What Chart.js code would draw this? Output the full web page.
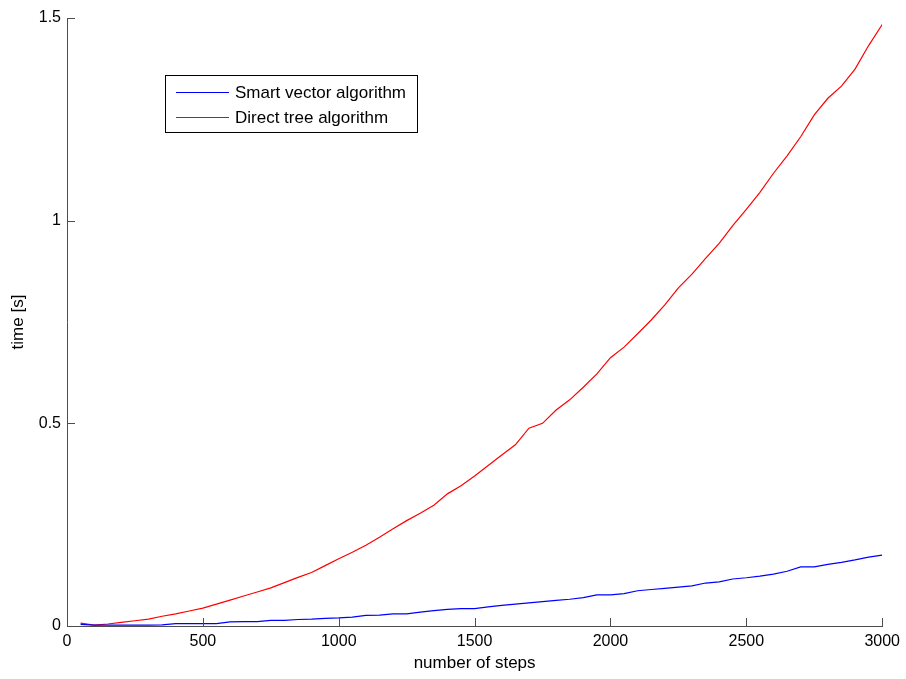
<!DOCTYPE html>
<html>
<head>
<meta charset="utf-8">
<title>Timing comparison</title>
<script src="https://cdn.jsdelivr.net/npm/chart.js@4/dist/chart.umd.min.js"></script>
<style>
  html, body { margin: 0; padding: 0; background: #ffffff; }
  #wrap { width: 906px; height: 679px; }
</style>
</head>
<body>
<div id="wrap"><canvas id="c" width="906" height="679"></canvas></div>
<script>
// Number of steps (x values)
const steps = [
  50, 100, 150, 200, 250, 300, 350, 400, 450, 500,
  550, 600, 650, 700, 750, 800, 850, 900, 950, 1000,
  1050, 1100, 1150, 1200, 1250, 1300, 1350, 1400, 1450, 1500,
  1550, 1600, 1650, 1700, 1750, 1800, 1850, 1900, 1950, 2000,
  2050, 2100, 2150, 2200, 2250, 2300, 2350, 2400, 2450, 2500,
  2550, 2600, 2650, 2700, 2750, 2800, 2850, 2900, 2950, 3000
];

// Run time in seconds, smart vector algorithm
const smartVectorTime = [
  0.004, 0.002, 0.002, 0.002, 0.002, 0.002, 0.003, 0.006, 0.006, 0.006,
  0.006, 0.010, 0.011, 0.011, 0.014, 0.014, 0.016, 0.017, 0.019, 0.020,
  0.022, 0.026, 0.027, 0.030, 0.030, 0.034, 0.038, 0.041, 0.043, 0.043,
  0.047, 0.051, 0.054, 0.057, 0.060, 0.063, 0.066, 0.070, 0.077, 0.077,
  0.080, 0.087, 0.090, 0.093, 0.096, 0.099, 0.106, 0.109, 0.116, 0.119,
  0.123, 0.128, 0.135, 0.146, 0.146, 0.152, 0.157, 0.163, 0.170, 0.175
];

// Run time in seconds, direct tree algorithm
const directTreeTime = [
  0.007, 0.002, 0.005, 0.009, 0.013, 0.017, 0.024, 0.030, 0.037, 0.044,
  0.054, 0.064, 0.074, 0.084, 0.094, 0.107, 0.120, 0.132, 0.149, 0.166,
  0.182, 0.199, 0.219, 0.240, 0.260, 0.278, 0.298, 0.326, 0.346, 0.370,
  0.396, 0.422, 0.447, 0.488, 0.500, 0.533, 0.558, 0.589, 0.622, 0.662,
  0.688, 0.721, 0.755, 0.792, 0.834, 0.868, 0.907, 0.944, 0.988, 1.028,
  1.070, 1.117, 1.160, 1.207, 1.261, 1.302, 1.332, 1.374, 1.432, 1.484
];

const seriesNames = ['Smart vector algorithm', 'Direct tree algorithm'];
const xTicks = [0, 500, 1000, 1500, 2000, 2500, 3000];
const yTicks = [0, 0.5, 1, 1.5];
const yTickLabels = ['0', '0.5', '1', '1.5'];

const FONT = '"Liberation Sans", Arial, Helvetica, sans-serif';
const AXIS_COLOR = '#4d4d4d';

function toPoints(xs, ys) {
  return xs.map((x, i) => ({ x: x, y: ys[i] }));
}

// Inward-pointing tick marks on the left and bottom axes
const inwardTicks = {
  id: 'inwardTicks',
  afterDatasetsDraw(chart) {
    const { ctx, chartArea, scales } = chart;
    const len = 8;
    ctx.save();
    ctx.strokeStyle = AXIS_COLOR;
    ctx.lineWidth = 1;
    ctx.beginPath();
    xTicks.forEach(v => {
      const px = Math.round(scales.x.getPixelForValue(v)) + 0.5;
      ctx.moveTo(px, chartArea.bottom);
      ctx.lineTo(px, chartArea.bottom - len);
    });
    yTicks.forEach(v => {
      const py = Math.round(scales.y.getPixelForValue(v)) + 0.5;
      ctx.moveTo(chartArea.left, py);
      ctx.lineTo(chartArea.left + len, py);
    });
    ctx.stroke();
    ctx.restore();
  }
};

// Boxed legend placed inside the plot area
const boxedLegend = {
  id: 'boxedLegend',
  afterDraw(chart) {
    const { ctx } = chart;
    const box = { x: 165.5, y: 75.5, w: 252, h: 57 };
    const rows = [92, 117];
    ctx.save();
    ctx.fillStyle = '#ffffff';
    ctx.fillRect(box.x, box.y, box.w, box.h);
    ctx.strokeStyle = '#000000';
    ctx.lineWidth = 1;
    ctx.strokeRect(box.x, box.y, box.w, box.h);
    ctx.font = '17px ' + FONT;
    ctx.textBaseline = 'middle';
    ctx.textAlign = 'left';
    chart.data.datasets.forEach((ds, i) => {
      const y = rows[i];
      ctx.strokeStyle = ds.borderColor;
      ctx.lineWidth = 1.2;
      ctx.beginPath();
      ctx.moveTo(176, y + 0.5);
      ctx.lineTo(229, y + 0.5);
      ctx.stroke();
      ctx.fillStyle = '#000000';
      ctx.fillText(ds.label, 235, y + 1);
    });
    ctx.restore();
  }
};

new Chart(document.getElementById('c'), {
  type: 'line',
  data: {
    datasets: [
      {
        label: seriesNames[0],
        data: toPoints(steps, smartVectorTime),
        borderColor: '#0000ff',
        borderWidth: 1.2,
        pointRadius: 0,
        tension: 0,
        fill: false
      },
      {
        label: seriesNames[1],
        data: toPoints(steps, directTreeTime),
        borderColor: '#ff0000',
        borderWidth: 1.2,
        pointRadius: 0,
        tension: 0,
        fill: false
      }
    ]
  },
  options: {
    responsive: false,
    animation: false,
    events: [],
    layout: { padding: { left: 0, top: 18, right: 23, bottom: 0 } },
    plugins: {
      legend: { display: false },
      tooltip: { enabled: false }
    },
    scales: {
      x: {
        type: 'linear',
        min: 0,
        max: 3000,
        afterFit(scale) { scale.height = 53; },
        afterBuildTicks(scale) { scale.ticks = xTicks.map(v => ({ value: v })); },
        grid: { display: false, drawTicks: false },
        border: { display: true, color: AXIS_COLOR, width: 1 },
        ticks: {
          color: '#000000',
          padding: 6,
          maxRotation: 0,
          font: { family: FONT, size: 16 },
          callback: v => String(v)
        },
        title: {
          display: true,
          text: 'number of steps',
          color: '#000000',
          font: { family: FONT, size: 17 },
          padding: { top: 0, bottom: 5 }
        }
      },
      y: {
        type: 'linear',
        min: 0,
        max: 1.5,
        afterFit(scale) { scale.width = 67; },
        afterBuildTicks(scale) { scale.ticks = yTicks.map(v => ({ value: v })); },
        grid: { display: false, drawTicks: false },
        border: { display: true, color: AXIS_COLOR, width: 1 },
        ticks: {
          color: '#000000',
          padding: 6,
          font: { family: FONT, size: 16 },
          callback: v => yTickLabels[yTicks.indexOf(v)]
        },
        title: {
          display: true,
          text: 'time [s]',
          color: '#000000',
          font: { family: FONT, size: 17 },
          padding: { top: 8, bottom: 0 }
        }
      }
    }
  },
  plugins: [inwardTicks, boxedLegend]
});
</script>
</body>
</html>
